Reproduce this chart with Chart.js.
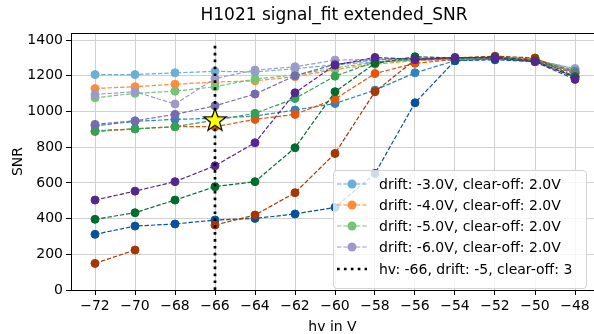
<!DOCTYPE html>
<html><head><meta charset="utf-8">
<script src="https://cdn.jsdelivr.net/npm/chart.js@4/dist/chart.umd.min.js"></script>
<style>
html,body{margin:0;padding:0;background:#fff;}
#wrap{position:relative;width:594px;height:334px;overflow:hidden;font-family:"DejaVu Sans",sans-serif;color:#000;}
#c{position:absolute;left:0;top:0;}
#title{position:absolute;top:4px;left:0;width:668px;text-align:center;font-size:17px;line-height:20px;white-space:nowrap;}
#legend{position:absolute;left:333px;top:170px;width:254px;height:119px;box-sizing:border-box;border:1px solid #d4d4d4;border-radius:4px;background:rgba(255,255,255,0.8);}
.row{position:absolute;left:0;height:20px;width:252px;}
.row svg{position:absolute;left:1px;top:0;}
.row span{position:absolute;left:45px;top:1px;font-size:14px;line-height:18px;white-space:nowrap;}
</style></head>
<body>
<div id="wrap">
<canvas id="c" width="594" height="334"></canvas>
<div id="title">H1021 signal_fit extended_SNR</div>
<div id="legend"></div>
</div>
<script>
const hv = [-72,-70,-68,-66,-64,-62,-60,-58,-56,-54,-52,-50,-48];
const xTicks = [-72,-70,-68,-66,-64,-62,-60,-58,-56,-54,-52,-50,-48];
const yTicks = [0,200,400,600,800,1000,1200,1400];

// clear-off 2.0V
const d3co2 = [1207,1207,1217,1225,1222,1240,1262,1278,1285,1290,1295,1285,1232];
const d4co2 = [1129,1139,1153,1165,1172,1195,1236,1265,1285,1295,1305,1295,1222];
const d5co2 = [1077,1102,1114,1139,1182,1205,1245,1275,1290,1295,1300,1290,1238];
const d6co2 = [1096,1111,1042,1185,1232,1251,1288,1292,1300,1300,1300,1288,1241];
// clear-off 3.0V
const d3co3 = [920,945,956,962,975,1008,1045,1120,1217,1285,1295,1285,1213];
const d4co3 = [888,903,915,915,956,984,1070,1213,1270,1292,1305,1295,1218];
const d5co3 = [892,903,915,952,990,1073,1198,1279,1292,1295,1300,1290,1225];
const d6co3 = [928,948,984,1032,1098,1200,1265,1290,1297,1300,1300,1285,1213];
// clear-off 4.0V
const d3co4 = [312,358,370,392,401,426,463,653,1049,1285,1290,1280,1195];
const d4co4 = [149,224,null,364,420,545,765,1111,1290,1300,1310,1300,1195];
const d5co4 = [396,433,504,579,607,797,1111,1270,1307,1300,1305,1285,1190];
const d6co4 = [504,554,607,696,825,1105,1260,1303,1292,1303,1300,1279,1180];

const seriesLabels = [
 'drift: -3.0V, clear-off: 2.0V','drift: -4.0V, clear-off: 2.0V','drift: -5.0V, clear-off: 2.0V','drift: -6.0V, clear-off: 2.0V',
 'drift: -3.0V, clear-off: 3.0V','drift: -4.0V, clear-off: 3.0V','drift: -5.0V, clear-off: 3.0V','drift: -6.0V, clear-off: 3.0V',
 'drift: -3.0V, clear-off: 4.0V','drift: -4.0V, clear-off: 4.0V','drift: -5.0V, clear-off: 4.0V','drift: -6.0V, clear-off: 4.0V'];
const seriesValues = [d3co2,d4co2,d5co2,d6co2,d3co3,d4co3,d5co3,d6co3,d3co4,d4co4,d5co4,d6co4];
const seriesColors = ['#6baed6','#fd8d3c','#74c476','#9e9ac8',
                      '#3182bd','#e6550d','#31a354','#756bb1',
                      '#08519c','#a63603','#006d2c','#54278f'];
const bestHv = -66, bestSnr = 952, vlineTop = 1375;
const vlineLabel = 'hv: -66, drift: -5, clear-off: 3';

// star marker
function makeStar(){
  const c = document.createElement('canvas'); c.width = 28; c.height = 28;
  const g = c.getContext('2d'); const cx = 14, cy = 14.5, R = 12, r = 4.8;
  g.beginPath();
  for (let i=0;i<10;i++){ const a = -Math.PI/2 + i*Math.PI/5; const rr = i%2?r:R;
    g.lineTo(cx+rr*Math.cos(a), cy+rr*Math.sin(a)); }
  g.closePath(); g.fillStyle='#ffff00'; g.fill(); g.lineWidth=1.2; g.strokeStyle='#000'; g.lineJoin='miter'; g.stroke();
  return c;
}

const datasets = seriesValues.map((vals,i)=>({
  type:'line', label:seriesLabels[i],
  data: hv.map((x,j)=>({x:x,y:vals[j]})),
  borderColor:seriesColors[i], backgroundColor:seriesColors[i],
  borderWidth:1.2, borderDash:[4.4,1.9], tension:0, fill:false, spanGaps:false,
  pointRadius:4, pointHoverRadius:4, pointBorderWidth:1,
  pointBorderColor:seriesColors[i], pointBackgroundColor:seriesColors[i],
  order: 100 - i
}));
datasets.push({type:'line', label:vlineLabel, data:[{x:bestHv,y:0},{x:bestHv,y:vlineTop}],
  borderColor:'#000', borderWidth:2.7, borderDash:[2.7,4.2], borderCapStyle:'butt', pointRadius:0, fill:false, order:2});
datasets.push({type:'scatter', label:'best', data:[{x:bestHv,y:bestSnr}], pointStyle:makeStar(), pointRadius:12, order:1});

const fam = '"DejaVu Sans", sans-serif';
const minus = v => String(v).replace('-', '\u2212');

const spine = {id:'spine', afterDraw(chart){ const {ctx, chartArea:a} = chart; ctx.save();
  ctx.strokeStyle='#000'; ctx.lineWidth=1; ctx.beginPath(); ctx.moveTo(a.left, a.top+0.5); ctx.lineTo(a.right, a.top+0.5); ctx.stroke(); ctx.restore(); }};

new Chart(document.getElementById('c'), {
  data:{datasets},
  options:{
    responsive:false, animation:false, devicePixelRatio:1,
    layout:{padding:{left:0,right:0,top:33,bottom:0}, autoPadding:false},
    plugins:{legend:{display:false}, tooltip:{enabled:false}, title:{display:false}},
    scales:{
      x:{type:'linear', min:-73.2, max:-47.05,
        afterBuildTicks: s => { s.ticks = xTicks.map(v=>({value:v})); },
        afterFit: s => { s.height = 44; s.paddingLeft = 0; s.paddingRight = 0; },
        ticks:{color:'#000', font:{family:fam,size:14}, padding:3, maxRotation:0, autoSkip:false, callback: v => minus(v)},
        grid:{color:'#d0d0d0', lineWidth:1, tickColor:'#000', tickLength:5, tickWidth:1},
        border:{color:'#000', width:1},
        title:{display:true, text:'hv in V', color:'#000', font:{family:fam,size:14,lineHeight:1}, padding:{top:0,bottom:0}}
      },
      y:{type:'linear', min:0, max:1440,
        afterBuildTicks: s => { s.ticks = yTicks.map(v=>({value:v})); },
        afterFit: s => { s.width = 71; s.paddingTop = 0; s.paddingBottom = 0; },
        ticks:{color:'#000', font:{family:fam,size:14}, padding:3, callback: v => String(v)},
        grid:{color:'#d0d0d0', lineWidth:1, tickColor:'#000', tickLength:5, tickWidth:1},
        border:{color:'#000', width:1},
        title:{display:true, text:'SNR', color:'#000', font:{family:fam,size:14,lineHeight:1.2}, padding:{top:9.6,bottom:0}}
      }
    }
  },
  plugins:[spine]
});

// HTML legend
const leg = document.getElementById('legend');
const rowsY = [12.5, 33.7, 54.9, 76.1, 97.5];
for (let i=0;i<4;i++){
  const row = document.createElement('div'); row.className='row'; row.style.top=(rowsY[i]-10)+'px';
  row.innerHTML = '<svg width="34" height="20"><line x1="2" y1="10" x2="32" y2="10" stroke="'+seriesColors[i]+'" stroke-width="1.2" stroke-dasharray="4.4 1.9"/><circle cx="17" cy="10" r="4.5" fill="'+seriesColors[i]+'"/></svg><span></span>';
  row.querySelector('span').textContent = seriesLabels[i];
  leg.appendChild(row);
}
const r5 = document.createElement('div'); r5.className='row'; r5.style.top=(rowsY[4]-10)+'px';
r5.innerHTML = '<svg width="34" height="20"><line x1="2" y1="10" x2="32" y2="10" stroke="#000" stroke-width="2.7" stroke-dasharray="2.7 4.2"/></svg><span></span>';
r5.querySelector('span').textContent = vlineLabel;
leg.appendChild(r5);
</script>
</body></html>
